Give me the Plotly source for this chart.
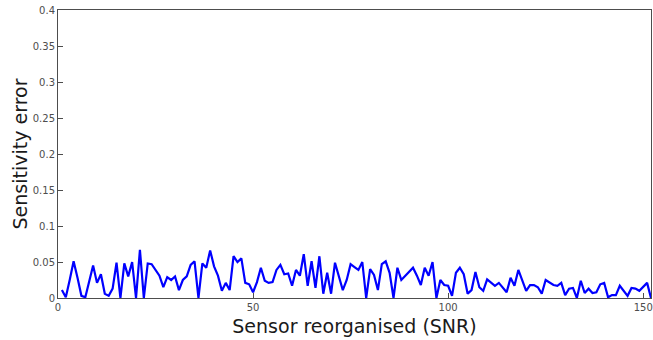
import plotly.graph_objects as go

# Sensor index after reorganisation by SNR
sensor_idx = list(range(1, 153))

# Sensitivity error per sensor
sens_err = [
    0.011, 0.001, 0.025, 0.051, 0.028, 0.003, 0.001, 0.024, 0.045, 0.021,
    0.033, 0.006, 0.003, 0.013, 0.049, 0.000, 0.048, 0.030, 0.050, 0.000,
    0.067, 0.000, 0.048, 0.047, 0.039, 0.031, 0.015, 0.029, 0.025, 0.030,
    0.011, 0.025, 0.030, 0.046, 0.051, 0.000, 0.048, 0.042, 0.066, 0.044,
    0.031, 0.010, 0.021, 0.011, 0.058, 0.050, 0.055, 0.021, 0.019, 0.008,
    0.022, 0.042, 0.024, 0.021, 0.022, 0.039, 0.046, 0.033, 0.034, 0.017,
    0.039, 0.031, 0.061, 0.017, 0.051, 0.014, 0.058, 0.006, 0.035, 0.006,
    0.049, 0.031, 0.011, 0.025, 0.047, 0.043, 0.039, 0.050, 0.000, 0.040,
    0.032, 0.011, 0.047, 0.051, 0.035, 0.000, 0.042, 0.025, 0.031, 0.036,
    0.042, 0.031, 0.018, 0.042, 0.031, 0.050, 0.000, 0.025, 0.018, 0.017,
    0.003, 0.035, 0.042, 0.033, 0.006, 0.011, 0.036, 0.015, 0.010, 0.026,
    0.021, 0.017, 0.021, 0.014, 0.008, 0.028, 0.017, 0.039, 0.024, 0.010,
    0.018, 0.018, 0.015, 0.006, 0.025, 0.021, 0.018, 0.017, 0.021, 0.004,
    0.013, 0.014, 0.000, 0.024, 0.007, 0.013, 0.007, 0.008, 0.019, 0.021,
    0.001, 0.004, 0.004, 0.017, 0.010, 0.003, 0.014, 0.013, 0.010, 0.015,
    0.021, 0.000,
]

x_ticks = [0, 50, 100, 150]
y_ticks = [0, 0.05, 0.1, 0.15, 0.2, 0.25, 0.3, 0.35, 0.4]
y_ticklabels = ["0", "0.05", "0.1", "0.15", "0.2", "0.25", "0.3", "0.35", "0.4"]

fig = go.Figure()
fig.add_trace(go.Scatter(
    x=sensor_idx, y=sens_err, mode="lines",
    line=dict(color="#0000ff", width=2.2),
    cliponaxis=True, showlegend=False,
))

axis_common = dict(
    showgrid=False, zeroline=False,
    showline=True, linecolor="#4d4d4d", linewidth=1, mirror=True,
    ticks="inside", ticklen=5, tickcolor="#4d4d4d", tickwidth=1,
    tickfont=dict(family="DejaVu Sans", size=10, color="#4d4d4d"),
    ticklabeloverflow="allow",
)

fig.update_xaxes(
    range=[0, 152], tickvals=x_ticks,
    title=dict(text="Sensor reorganised (SNR)", standoff=7,
               font=dict(family="DejaVu Sans", size=19, color="#1a1a1a")),
    **axis_common,
)
fig.update_yaxes(
    range=[0, 0.4], tickvals=y_ticks, ticktext=y_ticklabels,
    title=dict(text="Sensitivity error", standoff=0,
               font=dict(family="DejaVu Sans", size=19, color="#1a1a1a")),
    **axis_common,
)

fig.update_layout(
    width=653, height=340,
    margin=dict(l=58, r=0, t=10, b=42),
    paper_bgcolor="white", plot_bgcolor="white",
)

fig.write_html("out.html")
